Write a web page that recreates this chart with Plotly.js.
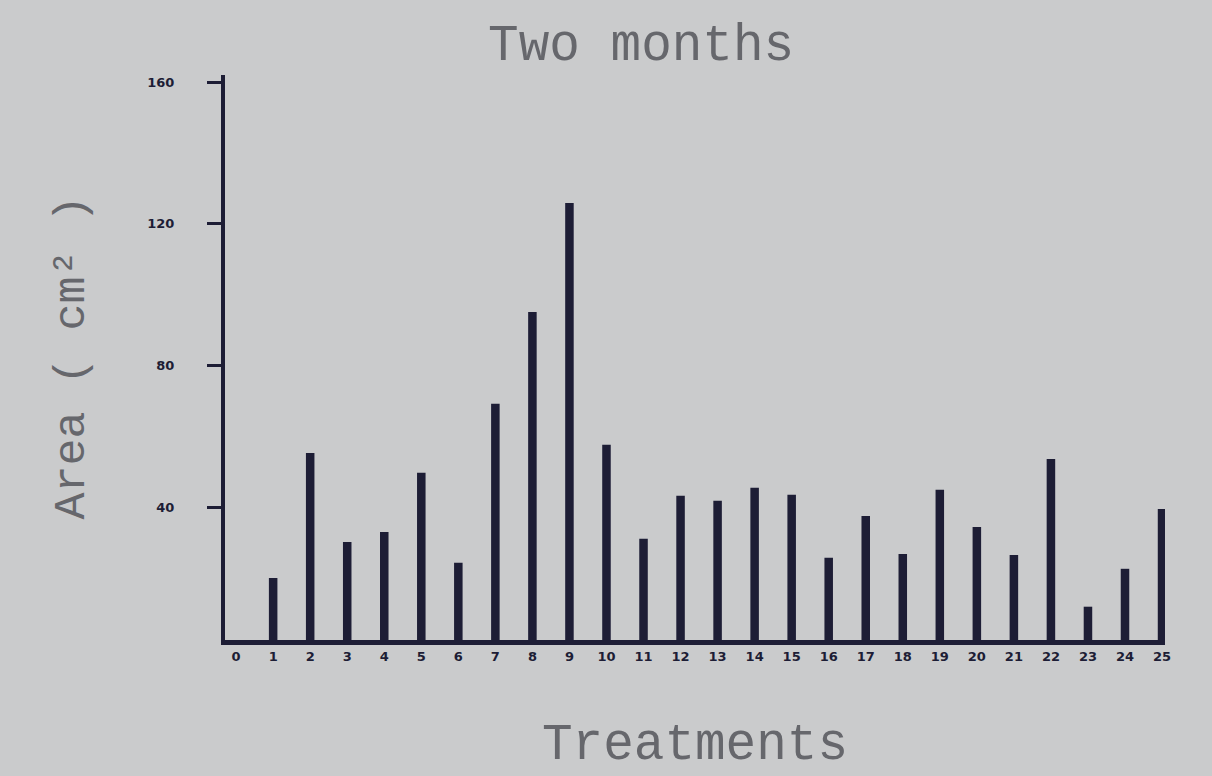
<!DOCTYPE html>
<html>
<head>
<meta charset="utf-8">
<script src="https://cdn.plot.ly/plotly-3.0.1.min.js"></script>
<style>
  html, body { margin: 0; padding: 0; background: #cacbcc; }
  #chart { width: 1212px; height: 776px; }
</style>
</head>
<body>
<div id="chart"></div>
<script>
// Treatments (x categories)
const treatments = [1, 2, 3, 4, 5, 6, 7, 8, 9, 10, 11, 12, 13, 14, 15, 16, 17, 18, 19, 20, 21, 22, 23, 24, 25];
// Area (cm²)
const areaValues = [20.0, 55.3, 30.2, 33.0, 49.7, 24.3, 69.2, 95.1, 125.9, 57.6, 31.1, 43.2, 41.8, 45.5, 43.5, 25.7, 37.5, 26.8, 44.9, 34.4, 26.5, 53.6, 11.9, 22.6, 39.5];
// Tick labels
const xTickVals = [0, 1, 2, 3, 4, 5, 6, 7, 8, 9, 10, 11, 12, 13, 14, 15, 16, 17, 18, 19, 20, 21, 22, 23, 24, 25];
const xTickText = xTickVals.map(String);
const yTickVals = [40, 80, 120, 160];
const yTickText = ["40", "80", "120", "160"];

const ink = "#1d1d35";
const grayText = "#66676c";
const mono = "Liberation Mono, DejaVu Sans Mono, monospace";

const trace = {
  type: "bar",
  x: treatments,
  y: areaValues,
  width: 0.23,
  marker: { color: ink, line: { width: 0 } },
  hoverinfo: "x+y"
};

const layout = {
  width: 1212,
  height: 776,
  paper_bgcolor: "#cacbcc",
  plot_bgcolor: "#cacbcc",
  showlegend: false,
  margin: { l: 225, r: 47, t: 75, b: 136 },
  title: {
    text: "Two months",
    font: { family: mono, size: 51, color: grayText },
    x: 0.529, xanchor: "center",
    y: 0.946, yanchor: "middle", yref: "container"
  },
  xaxis: {
    range: [-0.3, 25.08],
    tickvals: xTickVals,
    ticktext: xTickText,
    tickfont: { family: "DejaVu Sans", size: 13, color: ink, weight: "bold" },
    ticks: "",
    showgrid: false,
    zeroline: false,
    showline: true,
    linecolor: ink,
    linewidth: 5,
    title: {
      text: "Treatments",
      font: { family: mono, size: 51, color: grayText },
      standoff: 62
    },
    automargin: false
  },
  yaxis: {
    range: [2.5, 162],
    tickvals: yTickVals,
    ticktext: yTickText,
    tickfont: { family: "DejaVu Sans", size: 13, color: ink, weight: "bold" },
    ticks: "outside",
    ticklen: 14,
    tickwidth: 3,
    tickcolor: ink,
    ticklabelstandoff: 30,
    showgrid: false,
    zeroline: false,
    showline: true,
    linecolor: ink,
    linewidth: 4,
    title: {
      text: "Area ( cm² )",
      font: { family: mono, size: 45, color: grayText },
      standoff: 50
    },
    automargin: false
  }
};

Plotly.newPlot("chart", [trace], layout, { displayModeBar: false, staticPlot: true });
</script>
</body>
</html>
